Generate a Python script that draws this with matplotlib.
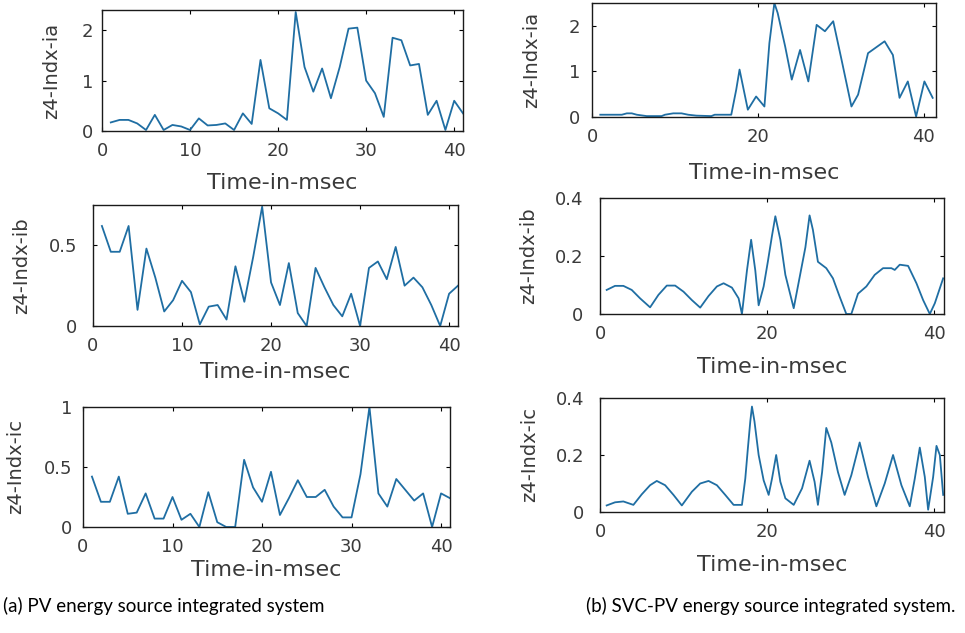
import numpy as np
import matplotlib
matplotlib.use("Agg")
import matplotlib.pyplot as plt

# (a) PV energy source integrated system, samples at t = 1..41 ms
t_pv = list(range(1, 42))
pv_ia = [0.17, 0.22, 0.22, 0.15, 0.02, 0.32, 0.02, 0.12, 0.09, 0.02,
         0.25, 0.11, 0.12, 0.15, 0.02, 0.35, 0.14, 1.41, 0.45, 0.35,
         0.22, 2.36, 1.27, 0.78, 1.24, 0.65, 1.27, 2.03, 2.05, 1.00,
         0.75, 0.28, 1.85, 1.80, 1.30, 1.33, 0.32, 0.60, 0.02, 0.60, 0.35]
pv_ib = [0.62, 0.46, 0.46, 0.62, 0.10, 0.48, 0.30, 0.09, 0.16, 0.28,
         0.21, 0.01, 0.12, 0.13, 0.04, 0.37, 0.15, 0.43, 0.74, 0.27,
         0.13, 0.39, 0.08, 0.00, 0.36, 0.24, 0.13, 0.06, 0.20, 0.00,
         0.36, 0.40, 0.29, 0.49, 0.25, 0.30, 0.24, 0.13, 0.00, 0.20, 0.25]
pv_ic = [0.42, 0.21, 0.21, 0.42, 0.11, 0.12, 0.28, 0.07, 0.07, 0.25,
         0.06, 0.11, 0.00, 0.29, 0.04, 0.00, 0.00, 0.56, 0.33, 0.21,
         0.46, 0.10, 0.24, 0.39, 0.25, 0.25, 0.31, 0.17, 0.08, 0.08,
         0.44, 1.00, 0.28, 0.17, 0.40, 0.31, 0.22, 0.28, 0.00, 0.28, 0.24]

# (b) SVC-PV energy source integrated system, read as vertices
svc_ia_t = [1.0, 3.6, 4.2, 4.8, 5.4, 6.6, 8.4, 8.8, 9.8, 10.8, 11.6, 12.6, 14.4,
            14.8, 16.8, 17.4, 17.8, 18.8, 19.8, 20.8, 21.4, 22.0, 22.4, 23.3,
            24.1, 25.1, 26.1, 27.1, 28.1, 29.1, 30.1, 31.3, 32.1, 33.3, 35.3,
            36.3, 37.1, 38.1, 39.1, 40.1, 41.1]
svc_ia = [0.05, 0.05, 0.08, 0.08, 0.05, 0.02, 0.02, 0.05, 0.08, 0.08, 0.05,
          0.03, 0.02, 0.05, 0.05, 0.60, 1.04, 0.16, 0.45, 0.23, 1.62, 2.50,
          2.28, 1.55, 0.82, 1.47, 0.78, 2.02, 1.88, 2.10, 1.26, 0.23, 0.49,
          1.40, 1.66, 1.36, 0.42, 0.78, 0.01, 0.78, 0.42]

svc_ib_t = [0.8, 1.8, 2.8, 3.8, 4.8, 6.0, 7.0, 8.0, 9.0, 10.0, 11.0, 12.0,
            13.0, 14.0, 14.8, 15.8, 16.6, 17.0, 17.6, 18.1, 18.6, 19.0, 19.6,
            20.1, 20.6, 21.0, 21.6, 22.2, 23.2, 24.0, 24.6, 25.1, 25.5, 26.1,
            27.1, 27.9, 28.7, 29.5, 30.1, 30.9, 31.9, 32.9, 33.9, 34.9, 35.3,
            35.9, 36.9, 37.9, 38.7, 39.5, 40.1, 41.1]
svc_ib = [0.083, 0.097, 0.097, 0.083, 0.054, 0.023, 0.066, 0.098, 0.098,
          0.077, 0.048, 0.022, 0.062, 0.095, 0.106, 0.091, 0.054, 0.0, 0.15,
          0.256, 0.15, 0.03, 0.095, 0.18, 0.27, 0.337, 0.256, 0.135, 0.02,
          0.14, 0.23, 0.34, 0.29, 0.18, 0.158, 0.123, 0.06, 0.0, 0.0, 0.07,
          0.095, 0.135, 0.158, 0.158, 0.152, 0.17, 0.166, 0.106, 0.048, 0.0,
          0.037, 0.123]

svc_ic_t = [0.8, 1.8, 2.8, 4.0, 5.0, 6.0, 6.8, 7.8, 8.8, 9.8, 11.0, 12.0,
            13.0, 14.0, 15.0, 16.0, 17.0, 17.4, 17.7, 18.0, 18.2, 18.5, 19.0,
            19.6, 20.2, 20.6, 21.1, 21.6, 22.2, 23.2, 24.2, 25.1, 25.7, 26.1,
            26.6, 27.1, 27.7, 28.5, 29.3, 30.1, 31.1, 32.1, 33.1, 34.1, 35.1,
            36.1, 37.1, 37.7, 38.3, 38.9, 39.3, 39.9, 40.3, 40.7, 41.1]
svc_ic = [0.023, 0.034, 0.037, 0.025, 0.062, 0.094, 0.109, 0.094, 0.06,
          0.023, 0.071, 0.1, 0.109, 0.094, 0.06, 0.025, 0.025, 0.117, 0.22,
          0.318, 0.37, 0.318, 0.2, 0.111, 0.06, 0.117, 0.2, 0.106, 0.048,
          0.025, 0.083, 0.18, 0.106, 0.025, 0.14, 0.295, 0.244, 0.14, 0.06,
          0.129, 0.244, 0.123, 0.02, 0.1, 0.2, 0.094, 0.02, 0.117, 0.226,
          0.123, 0.008, 0.123, 0.232, 0.2, 0.06]

W, H = 965, 633
line_color = '#1f6ea3'
text_color = '#3a3a3a'

plt.rcParams['font.family'] = ['DejaVu Sans']

fig = plt.figure(figsize=(W / 100, H / 100), dpi=100)

panels = [
    # (left, right, top, bottom), t, y, ytop, yticks, xticks, xmax, ylabel,
    # ytick gap px, ylabel centre offset px, xlabel top offset px
    ((102, 463, 10, 131), t_pv, pv_ia, 2.4, [0, 1, 2], [0, 10, 20, 30, 40], 41, 'z4-Indx-ia', 9, 41, 42),
    ((93, 458, 205, 326), t_pv, pv_ib, 0.75, [0, 0.5], [0, 10, 20, 30, 40], 41, 'z4-Indx-ib', 16, 62, 36),
    ((83, 450, 407, 527), t_pv, pv_ic, 1.0, [0, 0.5, 1], [0, 10, 20, 30, 40], 41, 'z4-Indx-ic', 11, 58, 33),
    ((592, 936, 3, 117), svc_ia_t, svc_ia, 2.5, [0, 1, 2], [0, 20, 40], 41.5, 'z4-Indx-ia', 12, 51, 46),
    ((600, 944, 198, 314), svc_ib_t, svc_ib, 0.4, [0, 0.2, 0.4], [0, 20, 40], 41.2, 'z4-Indx-ib', 17, 62, 43),
    ((600, 944, 398, 512), svc_ic_t, svc_ic, 0.4, [0, 0.2, 0.4], [0, 20, 40], 41.2, 'z4-Indx-ic', 16, 61, 43),
]

for rect, t, y, ytop, yticks, xticks, xmax, ylab, ygap, ylgap, xlgap in panels:
    left, right, top, bottom = rect
    wpx, hpx = right - left, bottom - top
    ax = fig.add_axes([left / W, 1 - bottom / H, wpx / W, hpx / H])
    ax.plot(t, y, color=line_color, lw=1.3)
    ax.set_xlim(0, xmax)
    ax.set_ylim(0, ytop)
    ax.set_xticks(xticks)
    ax.set_yticks(yticks)
    ax.set_yticklabels([f'{v:g}' for v in yticks])
    ax.tick_params(direction='in', length=3, width=0.8, top=True, right=True,
                   labelsize=13, colors='black', labelcolor=text_color)
    ax.tick_params(axis='x', pad=8)
    ax.tick_params(axis='y', pad=ygap * 0.72)
    for s in ax.spines.values():
        s.set_linewidth(1.0)
        s.set_color('#1a1a1a')
    ax.set_xlabel('Time-in-msec', fontsize=16, color=text_color)
    ax.set_ylabel(ylab, fontsize=14, color=text_color)
    ax.xaxis.set_label_coords(0.5, -xlgap / hpx)
    ax.yaxis.set_label_coords(-ylgap / wpx, 0.5)

fig.text(3 / W, 1 - 606 / H, '(a) PV energy source integrated system',
         fontsize=13.5, family=['Lato', 'DejaVu Sans'], va='center', ha='left', color='black')
fig.text(586 / W, 1 - 606 / H, '(b) SVC-PV energy source integrated system.',
         fontsize=13.5, family=['Lato', 'DejaVu Sans'], va='center', ha='left', color='black')

fig.savefig('out.png', dpi=100)
